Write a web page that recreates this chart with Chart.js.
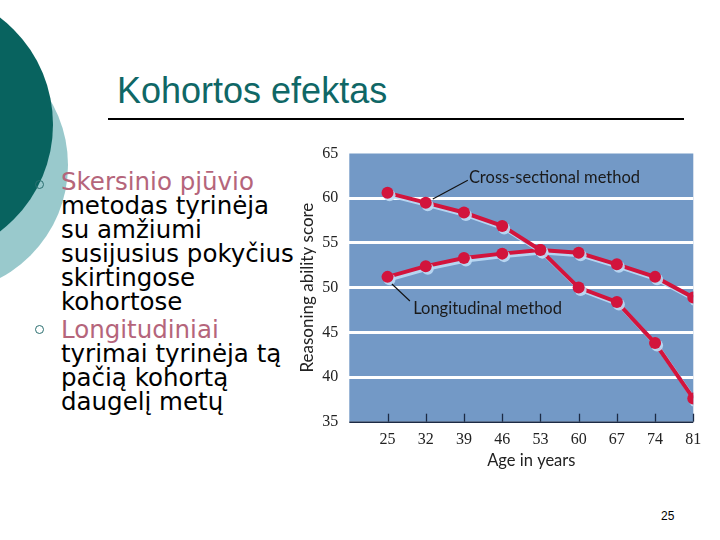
<!DOCTYPE html>
<html>
<head>
<meta charset="utf-8">
<script src="https://cdn.jsdelivr.net/npm/chart.js@4.4.0/dist/chart.umd.min.js"></script>
<style>
  html, body { margin:0; padding:0; background:#fff; width:720px; height:540px; overflow:hidden; }
  #slide { position:relative; width:720px; height:540px; overflow:hidden; }
  .circ { position:absolute; border-radius:50%; }
  #title { position:absolute; left:117px; top:69px; font-family:"Liberation Sans", Arial, sans-serif; font-size:36px; color:#0F6766; white-space:nowrap; line-height:44px; }
  #rule { position:absolute; left:108px; top:118px; width:576px; height:2px; background:#000; }
  .txt { position:absolute; left:61px; font-family:"DejaVu Sans", Verdana, sans-serif; font-size:24.5px; line-height:24px; color:#000; white-space:nowrap; }
  .pink { color:#B5657B; }
  .bul { position:absolute; width:7px; height:7px; border:1.6px solid #2B6F70; border-radius:50%; }
  #chartBox { position:absolute; left:297px; top:140px; width:413px; height:336px; background:#fff; }
  #pg { position:absolute; left:661px; top:509px; font-family:"Liberation Sans", Arial, sans-serif; font-size:12px; color:#000; }
</style>
</head>
<body>
<div id="slide">
  <div class="circ" style="left:-188px; top:37px; width:256px; height:256px; background:#99C9CC;"></div>
  <div class="circ" style="left:-216px; top:-10px; width:269px; height:269px; background:#08635F;"></div>
  <div id="title">Kohortos efektas</div>
  <div id="rule"></div>
  <div class="bul" style="left:35px; top:180px;"></div>
  <div class="txt" style="top:170px;"><span class="pink">Skersinio pjūvio</span><br>metodas tyrinėja<br>su amžiumi<br>susijusius pokyčius<br>skirtingose<br>kohortose</div>
  <div class="bul" style="left:35px; top:325px;"></div>
  <div class="txt" style="top:318px;"><span class="pink">Longitudiniai</span><br>tyrimai tyrinėja tą<br>pačią kohortą<br>daugelį metų</div>
  <div id="chartBox"><canvas id="c" width="413" height="336"></canvas></div>
  <div id="pg">25</div>
</div>
<script>
const ages = [25, 32, 39, 46, 53, 60, 67, 74, 81];
const crossSectional = [60.6, 59.5, 58.4, 56.9, 54.2, 50.0, 48.4, 43.8, 37.6];
const longitudinal = [51.2, 52.4, 53.3, 53.8, 54.2, 53.9, 52.6, 51.2, 48.9];
const yTicks = [35, 40, 45, 50, 55, 60, 65];
const seriesNames = ["Cross-sectional method", "Longitudinal method"];
const xTitle = "Age in years";

const RED = "#D2143C";
const labelFont = '"Lato", "Open Sans", sans-serif';
const numFont = '"Liberation Serif", "Times New Roman", serif';

const bgPlugin = {
  id: "plotBg",
  beforeDraw(chart) {
    const { ctx, chartArea: a } = chart;
    ctx.save();
    ctx.fillStyle = "#7399C6";
    ctx.fillRect(a.left, a.top, a.right - a.left, a.bottom - a.top);
    ctx.restore();
  },
  afterDraw(chart) {
    const { ctx, chartArea: a } = chart;
    const xs = chart.scales.x;
    ctx.save();
    ctx.strokeStyle = "#1C2A44";
    ctx.lineWidth = 1.3;
    xs.ticks.forEach(t => {
      const px = Math.round(xs.getPixelForValue(t.value)) + 0.5;
      ctx.beginPath();
      ctx.moveTo(px, a.bottom);
      ctx.lineTo(px, a.bottom - 8);
      ctx.stroke();
    });
    ctx.beginPath();
    ctx.moveTo(a.left, a.bottom + 0.5);
    ctx.lineTo(a.right, a.bottom + 0.5);
    ctx.lineWidth = 1.5;
    ctx.stroke();
    ctx.fillStyle = "#222";
    ctx.font = "16.5px " + labelFont;
    ctx.textAlign = "center";
    ctx.textBaseline = "middle";
    ctx.fillText(xTitle, (a.left + a.right) / 2 + 10, a.bottom + 38.5);
    ctx.restore();
  }
};

const shadowPlugin = {
  id: "shadow",
  beforeDatasetsDraw(chart) {
    const ctx = chart.ctx;
    ctx.save();
    ctx.shadowColor = "rgba(190,220,245,0.9)";
    ctx.shadowOffsetX = 2;
    ctx.shadowOffsetY = 2.5;
    ctx.shadowBlur = 0;
  },
  afterDatasetsDraw(chart) {
    chart.ctx.restore();
  }
};

const annoPlugin = {
  id: "annos",
  afterDatasetsDraw(chart) {
    const { ctx } = chart;
    const xs = chart.scales.x, ys = chart.scales.y;
    const P = (x, y) => [xs.getPixelForValue(x), ys.getPixelForValue(y)];
    ctx.save();
    ctx.strokeStyle = "#111";
    ctx.lineWidth = 1.1;
    let a = P(33.3, 59.9), b = P(39.7, 62.0);
    ctx.beginPath(); ctx.moveTo(a[0], a[1]); ctx.lineTo(b[0], b[1]); ctx.stroke();
    a = P(25.8, 50.4); b = P(29.1, 48.5);
    ctx.beginPath(); ctx.moveTo(a[0], a[1]); ctx.lineTo(b[0], b[1]); ctx.stroke();
    ctx.fillStyle = "#1a1a1a";
    ctx.font = "16.5px " + labelFont;
    ctx.textBaseline = "middle";
    ctx.textAlign = "left";
    let t = P(39.9, 62.26);
    ctx.fillText(seriesNames[0], t[0], t[1]);
    t = P(29.7, 47.6);
    ctx.fillText(seriesNames[1], t[0], t[1]);
    ctx.restore();
  }
};

new Chart(document.getElementById("c"), {
  type: "line",
  data: {
    datasets: [
      { label: seriesNames[0], data: ages.map((a, i) => ({ x: a, y: crossSectional[i] })),
        borderColor: RED, backgroundColor: RED, borderWidth: 4, pointRadius: 6,
        pointBackgroundColor: RED, pointBorderColor: RED, pointBorderWidth: 0, tension: 0 },
      { label: seriesNames[1], data: ages.map((a, i) => ({ x: a, y: longitudinal[i] })),
        borderColor: RED, backgroundColor: RED, borderWidth: 4, pointRadius: 6,
        pointBackgroundColor: RED, pointBorderColor: RED, pointBorderWidth: 0, tension: 0 }
    ]
  },
  options: {
    responsive: false,
    animation: false,
    devicePixelRatio: 1,
    layout: { padding: { top: 13.5, right: 16.7, left: 0, bottom: 0 } },
    plugins: { legend: { display: false }, tooltip: { enabled: false } },
    scales: {
      x: {
        type: "linear", min: 18, max: 81,
        afterBuildTicks(s) { s.ticks = ages.map(v => ({ value: v })); },
        afterFit(s) { s.height = 54.3; s.paddingLeft = 0; s.paddingRight = 0; },
        grid: { display: false, drawTicks: false },
        border: { display: false },
        ticks: { color: "#222", font: { family: numFont, size: 16 }, padding: 8, autoSkip: false, maxRotation: 0 },
        title: { display: false }
      },
      y: {
        min: 35, max: 65,
        afterBuildTicks(s) { s.ticks = yTicks.map(v => ({ value: v })); },
        afterFit(s) { s.width = 52.3; s.paddingTop = 0; s.paddingBottom = 0; },
        grid: {
          drawTicks: false,
          color: c => (c.tick && c.tick.value > 35 && c.tick.value < 65) ? "#ffffff" : "rgba(0,0,0,0)",
          lineWidth: 3
        },
        border: { display: false },
        ticks: { color: "#222", font: { family: numFont, size: 16 }, padding: 11 },
        title: { display: true, text: "Reasoning ability score", color: "#222", font: { family: labelFont, size: 17 }, padding: { top: 0, bottom: 0 } }
      }
    }
  },
  plugins: [bgPlugin, shadowPlugin, annoPlugin]
});
</script>
</body>
</html>
